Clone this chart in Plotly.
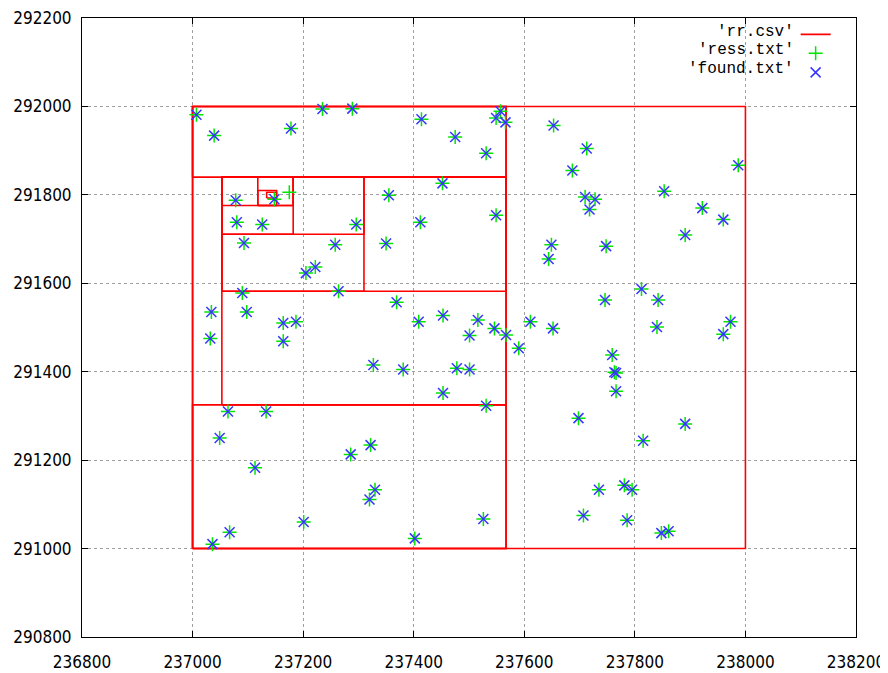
import plotly.graph_objects as go

# ---- data ----
# kd-tree cells from 'rr.csv' (x0, x1, y0, y1)
RR_X0 = [237000, 237000, 237000, 237000, 237053, 237053, 237053, 237053, 237053, 237053, 237118, 237118, 237134]
RR_X1 = [238000, 237567, 237567, 237567, 237567, 237567, 237310, 237310, 237182, 237182, 237182, 237152, 237152]
RR_Y0 = [291000, 291000, 291840, 291000, 291325, 291582, 291582, 291711, 291711, 291776, 291776, 291776, 291793]
RR_Y1 = [292000, 292000, 292000, 291325, 291840, 291840, 291840, 291840, 291840, 291840, 291840, 291810, 291806]

FOUND_X = [237007, 237039, 237178, 237235, 237289, 237414, 237475, 237531, 237557, 237549, 237566,
           237452, 237355, 237412, 237549, 237350, 237078, 237148, 237080, 237126, 237296, 237093,
           237258, 237222, 237205, 237090, 237264, 237034, 237098, 237032, 237164, 237187, 237164,
           237369, 237409, 237453, 237516, 237501, 237546, 237567, 237327, 237381, 237478, 237501,
           237453, 237531, 237064, 237133, 237049, 237113, 237286, 237322, 237330, 237320, 237201,
           237067, 237036, 237402, 237526, 237653, 237713, 237687, 237710, 237728, 237718, 237987,
           237853, 237922, 237960, 237891, 237649, 237644, 237748, 237812, 237842, 237746, 237611,
           237652, 237590, 237840, 237973, 237960, 237759, 237763, 237766, 237766, 237698, 237891,
           237815, 237735, 237781, 237795, 237707, 237786, 237848, 237861]
FOUND_Y = [291981, 291934, 291950, 291994, 291995, 291971, 291931, 291894, 291989, 291974, 291964,
           291826, 291799, 291738, 291754, 291690, 291788, 291790, 291738, 291733, 291733, 291691,
           291687, 291637, 291623, 291578, 291582, 291535, 291535, 291475, 291510, 291513, 291469,
           291557, 291513, 291527, 291517, 291482, 291498, 291483, 291415, 291405, 291408, 291405,
           291352, 291323, 291310, 291310, 291250, 291183, 291213, 291234, 291133, 291111, 291060,
           291037, 291010, 291023, 291067, 291957, 291905, 291855, 291795, 291790, 291767, 291867,
           291808, 291770, 291744, 291709, 291687, 291655, 291684, 291587, 291562, 291562, 291513,
           291498, 291453, 291501, 291513, 291485, 291438, 291399, 291397, 291356, 291295, 291282,
           291244, 291133, 291143, 291133, 291075, 291064, 291035, 291039]

RESS_ONLY_X = [237175]
RESS_ONLY_Y = [291806]
RESS_X = FOUND_X + RESS_ONLY_X
RESS_Y = FOUND_Y + RESS_ONLY_Y

X_TICKS = [236800, 237000, 237200, 237400, 237600, 237800, 238000, 238200]
Y_TICKS = [290800, 291000, 291200, 291400, 291600, 291800, 292000, 292200]
LEGEND_NAMES = ["'rr.csv'", "'ress.txt'", "'found.txt'"]

# ---- build rectangle outline path ----
rx, ry = [], []
for x0, x1, y0, y1 in zip(RR_X0, RR_X1, RR_Y0, RR_Y1):
    rx += [x0, x1, x1, x0, x0, None]
    ry += [y0, y0, y1, y1, y0, None]

fig = go.Figure()
fig.add_trace(go.Scatter(x=rx, y=ry, mode="lines", name=" ",
                         line=dict(color="#ff0000", width=1.6), connectgaps=False))
fig.add_trace(go.Scatter(x=RESS_X, y=RESS_Y, mode="markers", name=" ",
                         marker=dict(symbol="cross-thin", size=10,
                                     line=dict(color="#00e600", width=1.5))))
fig.add_trace(go.Scatter(x=FOUND_X, y=FOUND_Y, mode="markers", name=" ",
                         marker=dict(symbol="x-thin", size=10,
                                     line=dict(color="#3535ff", width=1.5))))

tickfont = dict(family="Liberation Sans Narrow, DejaVu Sans Condensed, Liberation Sans",
                size=17, color="#000000")
axis_common = dict(showline=True, linecolor="#000000", linewidth=1, mirror="allticks",
                   ticks="inside", ticklen=6, tickwidth=1, tickcolor="#000000",
                   showgrid=True, gridcolor="#a0a0a0", griddash="dot", gridwidth=1,
                   zeroline=False, tickformat="d", tickfont=tickfont, automargin=False,
                   ticklabeloverflow="allow")

fig.update_xaxes(range=[X_TICKS[0], X_TICKS[-1]], tickvals=X_TICKS,
                 ticktext=[str(v) for v in X_TICKS], ticklabelstandoff=10, **axis_common)
fig.update_yaxes(range=[Y_TICKS[0], Y_TICKS[-1]], tickvals=Y_TICKS,
                 ticktext=[str(v) for v in Y_TICKS], ticklabelstandoff=6, **axis_common)

# legend labels as text on the left of the symbols (gnuplot style)
legend_y = [0.977, 0.948, 0.917]
for name, yy in zip(LEGEND_NAMES, legend_y):
    fig.add_annotation(text=name, xref="paper", yref="paper", x=0.922, y=yy,
                       xanchor="right", yanchor="middle", showarrow=False,
                       font=dict(family="Liberation Mono", size=16, color="#000000"))

# page body has an 8px margin: figure is offset by (8, 8)
fig.update_layout(
    width=880, height=667,
    margin=dict(l=74, r=32, t=10, b=38),
    paper_bgcolor="#ffffff", plot_bgcolor="#ffffff",
    showlegend=True,
    legend=dict(x=0.922, y=0.997, xanchor="left", yanchor="top",
                bgcolor="rgba(0,0,0,0)", borderwidth=0,
                font=dict(family="Liberation Mono", size=12),
                tracegroupgap=0, itemwidth=30),
)

fig.write_html("out.html")
